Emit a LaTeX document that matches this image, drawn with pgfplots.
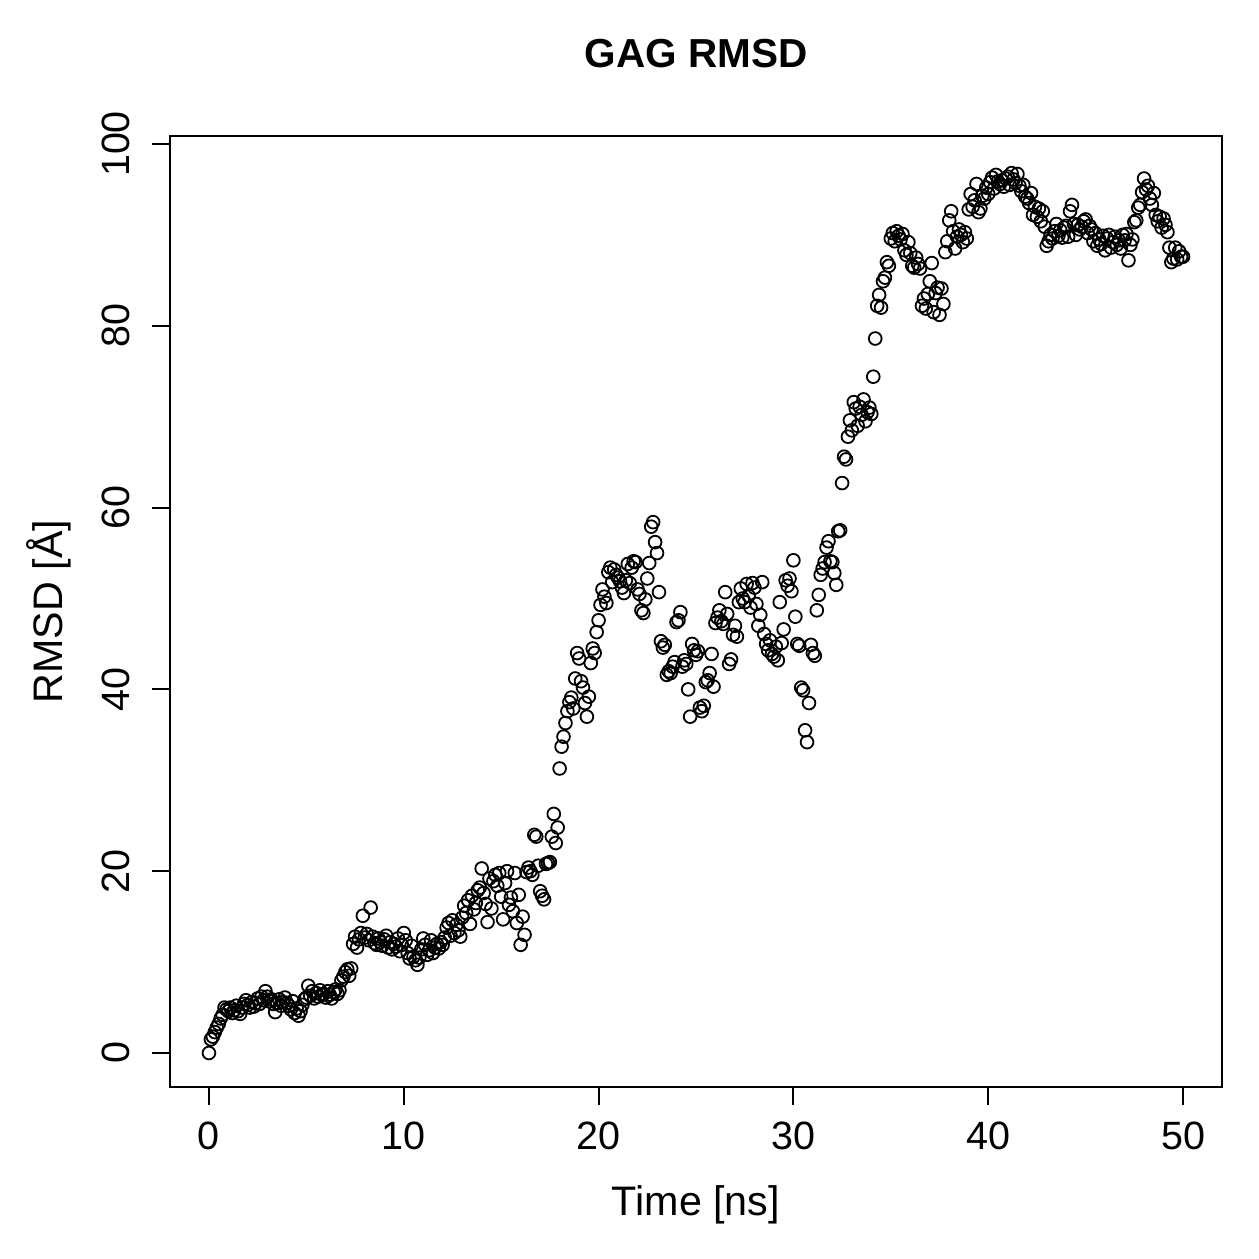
\documentclass[border=0pt]{standalone}
\usepackage{pgfplots}
\usepackage{pgfplotstable}
\usepackage{fontspec}
\setmainfont{Liberation Sans}
\pgfplotsset{compat=1.18}

% RMSD of the GAG, one frame every 0.1 ns from 0 to 50 ns
\pgfplotstableread[row sep=\\]{
rmsd\\
0.0\\ 1.5\\ 1.8\\ 2.3\\ 2.8\\ 3.2\\ 3.8\\ 4.2\\ 5.0\\ 4.8\\
4.6\\ 5.0\\ 4.4\\ 4.7\\ 5.2\\ 4.6\\ 4.3\\ 5.0\\ 5.4\\ 5.8\\
5.3\\ 5.0\\ 5.6\\ 5.1\\ 5.5\\ 6.0\\ 5.4\\ 6.2\\ 5.8\\ 6.8\\
6.2\\ 5.7\\ 5.9\\ 5.4\\ 4.5\\ 5.5\\ 5.9\\ 5.2\\ 5.6\\ 6.1\\
5.5\\ 5.2\\ 4.8\\ 5.7\\ 4.4\\ 4.9\\ 4.1\\ 4.6\\ 5.3\\ 5.9\\
6.1\\ 7.4\\ 6.3\\ 6.8\\ 6.0\\ 6.6\\ 6.2\\ 6.9\\ 6.4\\ 6.5\\
6.1\\ 6.8\\ 6.4\\ 6.0\\ 6.7\\ 7.0\\ 6.5\\ 6.9\\ 8.0\\ 8.4\\
8.9\\ 9.2\\ 8.5\\ 9.3\\ 12.0\\ 12.8\\ 11.6\\ 12.5\\ 13.2\\ 15.1\\
12.7\\ 13.1\\ 12.4\\ 16.0\\ 12.8\\ 12.1\\ 11.9\\ 12.6\\ 12.2\\ 11.8\\
12.5\\ 12.9\\ 11.6\\ 12.2\\ 11.4\\ 12.0\\ 11.7\\ 12.6\\ 11.2\\ 11.9\\
13.2\\ 12.4\\ 11.0\\ 10.4\\ 11.8\\ 10.6\\ 10.2\\ 9.7\\ 10.5\\ 11.4\\
12.6\\ 11.9\\ 10.8\\ 11.3\\ 12.4\\ 11.0\\ 11.6\\ 12.0\\ 11.5\\ 12.2\\
11.9\\ 12.7\\ 13.8\\ 14.3\\ 12.9\\ 14.6\\ 13.2\\ 14.1\\ 13.5\\ 12.8\\
14.9\\ 16.2\\ 15.4\\ 16.8\\ 14.2\\ 17.3\\ 15.8\\ 16.5\\ 17.9\\ 18.2\\
20.3\\ 17.6\\ 16.4\\ 14.4\\ 19.2\\ 15.9\\ 18.9\\ 19.6\\ 18.4\\ 19.8\\
17.2\\ 14.7\\ 18.7\\ 20.0\\ 16.3\\ 17.1\\ 15.6\\ 19.8\\ 14.3\\ 17.4\\
11.9\\ 15.0\\ 13.0\\ 19.9\\ 20.4\\ 20.0\\ 19.6\\ 24.0\\ 23.8\\ 20.6\\
17.8\\ 17.3\\ 16.9\\ 20.8\\ 20.9\\ 21.0\\ 23.8\\ 26.3\\ 23.1\\ 24.8\\
31.3\\ 33.7\\ 34.8\\ 36.3\\ 37.6\\ 38.6\\ 39.1\\ 37.9\\ 41.2\\ 44.0\\
43.4\\ 40.9\\ 40.2\\ 38.5\\ 37.0\\ 39.2\\ 42.9\\ 44.5\\ 44.0\\ 46.3\\
47.6\\ 49.3\\ 51.0\\ 50.2\\ 49.5\\ 52.9\\ 53.4\\ 51.8\\ 53.2\\ 52.6\\
52.3\\ 51.9\\ 51.2\\ 50.6\\ 52.0\\ 53.8\\ 51.7\\ 53.4\\ 54.1\\ 54.0\\
51.0\\ 50.5\\ 48.7\\ 48.4\\ 49.9\\ 52.2\\ 53.9\\ 57.9\\ 58.4\\ 56.2\\
55.0\\ 50.7\\ 45.3\\ 44.6\\ 44.9\\ 41.6\\ 42.0\\ 41.8\\ 42.5\\ 43.0\\
47.4\\ 47.6\\ 48.5\\ 42.5\\ 43.2\\ 42.8\\ 40.0\\ 37.0\\ 45.0\\ 44.3\\
43.8\\ 44.2\\ 38.0\\ 37.6\\ 38.2\\ 40.8\\ 41.0\\ 41.8\\ 43.9\\ 40.3\\
47.3\\ 47.9\\ 48.7\\ 47.5\\ 47.2\\ 50.7\\ 48.3\\ 42.8\\ 43.3\\ 46.0\\
47.0\\ 45.8\\ 49.6\\ 51.1\\ 50.0\\ 49.6\\ 51.6\\ 50.3\\ 49.0\\ 51.7\\
51.2\\ 49.4\\ 47.0\\ 48.2\\ 51.8\\ 46.1\\ 45.0\\ 44.3\\ 45.4\\ 43.9\\
43.6\\ 44.7\\ 43.2\\ 49.6\\ 45.1\\ 46.6\\ 52.0\\ 51.4\\ 52.2\\ 50.8\\
54.2\\ 48.0\\ 45.0\\ 44.8\\ 40.2\\ 39.9\\ 35.5\\ 34.2\\ 38.5\\ 44.9\\
44.0\\ 43.7\\ 48.7\\ 50.4\\ 52.6\\ 53.3\\ 54.0\\ 55.6\\ 56.3\\ 54.1\\
54.0\\ 52.8\\ 51.5\\ 57.4\\ 57.5\\ 62.7\\ 65.6\\ 65.3\\ 67.8\\ 69.6\\
68.5\\ 71.6\\ 70.9\\ 69.0\\ 71.1\\ 70.2\\ 71.9\\ 69.5\\ 70.5\\ 71.0\\
70.3\\ 74.4\\ 78.6\\ 82.2\\ 83.4\\ 82.0\\ 84.9\\ 85.3\\ 87.0\\ 86.6\\
89.6\\ 90.2\\ 89.3\\ 90.4\\ 89.9\\ 89.5\\ 90.1\\ 88.3\\ 87.8\\ 89.2\\
88.0\\ 86.6\\ 86.4\\ 87.5\\ 86.8\\ 86.3\\ 82.2\\ 83.0\\ 81.9\\ 83.5\\
84.9\\ 86.9\\ 81.5\\ 83.6\\ 84.2\\ 81.2\\ 84.1\\ 82.4\\ 88.1\\ 89.3\\
91.6\\ 92.6\\ 90.4\\ 88.5\\ 89.8\\ 90.6\\ 90.0\\ 89.2\\ 90.3\\ 89.6\\
92.8\\ 94.5\\ 93.1\\ 93.8\\ 95.6\\ 92.5\\ 92.9\\ 94.3\\ 94.0\\ 95.2\\
94.5\\ 95.8\\ 96.3\\ 95.1\\ 96.6\\ 95.9\\ 95.6\\ 96.0\\ 95.3\\ 96.2\\
96.4\\ 95.5\\ 96.8\\ 96.1\\ 95.7\\ 96.7\\ 95.4\\ 94.8\\ 95.5\\ 94.2\\
94.0\\ 93.5\\ 94.6\\ 92.2\\ 93.1\\ 92.0\\ 92.9\\ 91.5\\ 92.6\\ 90.9\\
88.8\\ 89.3\\ 90.0\\ 89.6\\ 90.4\\ 91.2\\ 89.9\\ 90.5\\ 89.7\\ 90.8\\
91.0\\ 89.8\\ 92.6\\ 93.3\\ 91.2\\ 90.0\\ 91.1\\ 90.6\\ 90.9\\ 91.5\\
91.7\\ 90.2\\ 91.0\\ 90.6\\ 89.3\\ 90.2\\ 88.8\\ 89.5\\ 89.0\\ 89.9\\
88.3\\ 89.6\\ 90.0\\ 88.6\\ 89.2\\ 89.8\\ 88.9\\ 89.4\\ 88.5\\ 90.0\\
89.4\\ 90.1\\ 87.2\\ 88.9\\ 89.5\\ 91.4\\ 91.6\\ 93.0\\ 93.3\\ 94.7\\
96.2\\ 95.0\\ 95.4\\ 94.0\\ 93.3\\ 94.6\\ 92.2\\ 91.5\\ 92.0\\ 90.8\\
91.8\\ 91.1\\ 90.3\\ 88.6\\ 87.0\\ 87.4\\ 88.6\\ 87.3\\ 88.2\\ 87.6\\
87.6\\
}\rmsdtable

\begin{document}
\begin{tikzpicture}
\path[use as bounding box] (-68pt,-68.8pt) rectangle (435.6pt,434.8pt);
\begin{axis}[
  at={(0,0)}, anchor=south west,
  scale only axis,
  width=420.8pt, height=380.4pt,
  xmin=-2, xmax=52,
  ymin=-3.74, ymax=100.88,
  axis line style={line width=0.8pt},
  every tick/.style={black, line width=0.8pt},
  tick align=outside,
  major tick length=7.2pt,
  xtick={0,10,20,30,40,50},
  xticklabels={0,10,20,30,40,50},
  ytick={0,20,40,60,80,100},
  yticklabels={0,20,40,60,80,100},
  xtick pos=bottom, ytick pos=left,
  tick label style={font=\fontsize{15.8}{19}\selectfont},
  xticklabel style={anchor=base, yshift=-17.6pt},
  yticklabel style={xshift=-8.8pt, rotate=90, anchor=base},
  every axis x label/.style={at={([yshift=-51.2pt]axis description cs:0.5,0)}, anchor=base,
    font=\fontsize{16.5}{19.8}\selectfont},
  every axis y label/.style={at={([xshift=-42.8pt]axis description cs:0,0.5)}, rotate=90, anchor=base,
    font=\fontsize{16.5}{19.8}\selectfont},
  xlabel={Time [ns]},
  ylabel={RMSD [Å]},
  title={GAG RMSD},
  title style={at={([yshift=21.2pt]axis description cs:0.5,1)}, anchor=base, font=\bfseries\fontsize{16.2}{19.4}\selectfont},
]
\addplot[only marks, mark=o, mark size=2.55pt, mark options={line width=0.72pt, black}]
  table[x expr=\coordindex*0.1, y=rmsd] {\rmsdtable};
\end{axis}
\end{tikzpicture}
\end{document}
